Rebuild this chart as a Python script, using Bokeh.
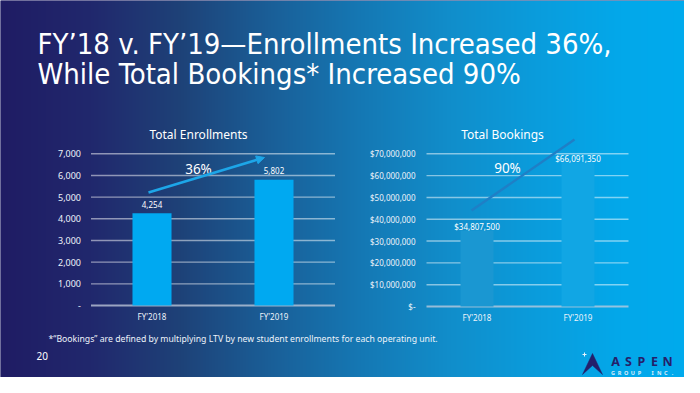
import numpy as np
from bokeh.plotting import figure
from bokeh.models import Range1d, Arrow, NormalHead
from bokeh.core.properties import value
from bokeh.embed import file_html
from bokeh.resources import INLINE

# ---------------- data ----------------
categories = ["FY'2018", "FY'2019"]
enrollments = [4254, 5802]
enroll_labels = ["4,254", "5,802"]
enroll_ticks = [0, 1000, 2000, 3000, 4000, 5000, 6000, 7000]
enroll_tick_labels = ["-", "1,000", "2,000", "3,000", "4,000", "5,000", "6,000", "7,000"]
enroll_growth = "36%"

bookings = [34807500, 66091350]
booking_labels = ["$34,807,500", "$66,091,350"]
booking_ticks = [0, 10000000, 20000000, 30000000, 40000000, 50000000, 60000000, 70000000]
booking_tick_labels = ["$-", "$10,000,000", "$20,000,000", "$30,000,000", "$40,000,000",
                       "$50,000,000", "$60,000,000", "$70,000,000"]
booking_growth = "90%"

title_lines = ["FY\u201918 v. FY\u201919\u2014Enrollments Increased 36%,",
               "While Total Bookings* Increased 90%"]
chart_titles = ["Total Enrollments", "Total Bookings"]
footnote = "*\u201cBookings\u201d are defined by multiplying LTV by new student enrollments for each operating unit."
page_number = "20"

# ---------------- layout ----------------
SW, SH = 700, 393          # slide size
W, H = 684, 377            # figure size (fits window with 8px page margin)

def Y(ry):                 # slide y (down) -> data y (up)
    return SH - ry

def lin_range(a, pa, b, pb, lo, hi):
    k = (b - a) / (pb - pa)
    return Range1d(start=a + (lo - pa) * k, end=a + (hi - pa) * k)

p = figure(width=W, height=H, x_range=Range1d(0, W), y_range=Range1d(SH - H, SH),
           output_backend="svg", toolbar_location=None, min_border=0,
           x_axis_type=None, y_axis_type=None)
p.grid.visible = False
p.outline_line_color = None
p.background_fill_color = "#1f1c64"
p.border_fill_color = "#1f1c64"

# chart coordinate systems (frame spans slide px 0..W horizontally, 0..H vertically)
p.extra_x_ranges = {
    "ex": lin_range(0, 151.5, 1, 273.5, 0, W),
    "bx": lin_range(0, 476.5, 1, 577.5, 0, W),
}
p.extra_y_ranges = {
    "ey": lin_range(0, 305, 7000, 153.3, H, 0),
    "by": lin_range(0, 306, 70000000, 153.3, H, 0),
}

# ---------------- background gradient ----------------
stops_x = [0, 90, 180, 270, 360, 450, 540, 620, 700]
stops_c = ["#1f1c64", "#21286d", "#1e4278", "#1a5f98", "#1578b4", "#118ecb", "#0a9ddd", "#03a8ea", "#00abee"]
rgb = np.array([[int(c[i:i + 2], 16) for i in (1, 3, 5)] for c in stops_c], dtype=float)
xs = np.arange(SW) + 0.5
img = np.empty((2, SW), dtype=np.uint32)
view = img.view(dtype=np.uint8).reshape((2, SW, 4))
for ch in range(3):
    view[:, :, ch] = np.interp(xs, stops_x, rgb[:, ch]).astype(np.uint8)[None, :]
view[:, :, 3] = 255
p.image_rgba(image=[img], x=0, y=0, dw=SW, dh=SH)

def grad_hex(x, lighten=0.0):
    c = [np.interp(x, stops_x, rgb[:, ch]) for ch in range(3)]
    c = [v + (255 - v) * lighten for v in c]
    return "#%02x%02x%02x" % tuple(int(round(v)) for v in c)

LABEL_FONT = value("Noto Sans")
idx = list(range(len(categories)))

def draw_chart(xr, yr, values, labels, ticks, tick_labels, bar_colors, bar_width,
               tick_size, label_offset, tick_xoff):
    n = len(ticks)
    # grid lines (non-zero)
    p.segment(x0=[-0.5] * (n - 1), x1=[1.5] * (n - 1), y0=ticks[1:], y1=ticks[1:],
              x_range_name=xr, y_range_name=yr, line_color="white", line_alpha=0.5, line_width=1.4)
    # baseline
    p.segment(x0=[-0.5], x1=[1.5], y0=ticks[:1], y1=ticks[:1],
              x_range_name=xr, y_range_name=yr, line_color="#c4cede", line_alpha=0.75, line_width=2)
    # bars
    p.vbar(x=idx, top=values, bottom=0, width=bar_width, fill_color=bar_colors, line_color=None,
           x_range_name=xr, y_range_name=yr)
    # value labels
    p.text(x=idx, y=values, text=labels, x_range_name=xr, y_range_name=yr,
           text_align="center", text_baseline="middle", y_offset=label_offset,
           text_font=LABEL_FONT, text_font_size="8px", text_color="white")
    # y tick labels
    p.text(x=[-0.5] * n, y=ticks, text=tick_labels, x_range_name=xr, y_range_name=yr,
           text_align="right", text_baseline="middle", x_offset=tick_xoff,
           text_font=LABEL_FONT, text_font_size=tick_size, text_color="#eef3fa")
    # category labels
    p.text(x=idx, y=[0] * len(idx), text=categories, x_range_name=xr, y_range_name=yr,
           text_align="center", text_baseline="middle", y_offset=11,
           text_font=LABEL_FONT, text_font_size="8px", text_color="#eef3fa")

draw_chart("ex", "ey", enrollments, enroll_labels, enroll_ticks, enroll_tick_labels,
           ["#00a9f1", "#00a9f1"], 0.32, "9px", -9, -10)
draw_chart("bx", "by", bookings, booking_labels, booking_ticks, booking_tick_labels,
           [grad_hex(476.5, 0.045), grad_hex(577.5, 0.04)], 0.327, "8px", -4, -11)

# growth arrows
p.add_layout(Arrow(x_start=148, y_start=Y(192), x_end=264, y_end=Y(157),
                   line_color="#1da6e8", line_width=2.6,
                   end=NormalHead(size=8, fill_color="#1da6e8", line_color="#1da6e8")))
p.segment(x0=[471], y0=[Y(210)], x1=[574], y1=[Y(139)], line_color="#1f7fc6", line_width=2.4)

p.text(x=[198, 507], y=[Y(168), Y(167)], text=[enroll_growth, booking_growth],
       text_align="center", text_baseline="middle",
       text_font=LABEL_FONT, text_font_size="13.5px", text_color="white")

# chart titles
p.text(x=[198, 502], y=[Y(134), Y(134)], text=chart_titles,
       text_align="center", text_baseline="middle",
       text_font=LABEL_FONT, text_font_size="12px", text_color="white")

# slide title
p.text(x=[37, 37], y=[Y(43), Y(73)], text=title_lines,
       text_align="left", text_baseline="middle",
       text_font=value("'DejaVu Sans Condensed', 'Liberation Sans Narrow', 'Roboto Condensed', Roboto, sans-serif"),
       text_font_size="29px", text_color="white")

# footnote and page number
p.text(x=[48], y=[Y(338)], text=[footnote], text_align="left", text_baseline="middle",
       text_font=LABEL_FONT, text_font_size="8.7px", text_color="#eef3fa")
p.text(x=[36], y=[Y(355)], text=[page_number], text_align="left", text_baseline="middle",
       text_font=LABEL_FONT, text_font_size="10px", text_color="white")

# logo (nudged up slightly so it fits inside the figure)
LY = -6
p.patch(x=[582, 592, 602, 592], y=[Y(380 + LY), Y(359 + LY), Y(380 + LY), Y(371 + LY)],
        fill_color="#241f6a", line_color="#241f6a", line_width=0.5)
p.scatter(x=[584], y=[Y(360 + LY)], marker="cross", size=4, line_color="#e8f4fc", line_width=1)
logo_top = list("ASPEN")
p.text(x=[615 + 13 * i for i in range(len(logo_top))], y=[Y(367 + LY)] * len(logo_top), text=logo_top,
       text_align="center", text_baseline="middle", text_font=LABEL_FONT,
       text_font_size="12.5px", text_font_style="bold", text_color="#241f6a")
logo_bot = list("GROUP INC.")
p.text(x=[612.5 + 6.6 * i for i in range(len(logo_bot))], y=[Y(378.5 + LY)] * len(logo_bot), text=logo_bot,
       text_align="center", text_baseline="middle", text_font=LABEL_FONT,
       text_font_size="5.5px", text_font_style="bold", text_color="#dcecf8")

open("out.html", "w").write(file_html(p, INLINE))
